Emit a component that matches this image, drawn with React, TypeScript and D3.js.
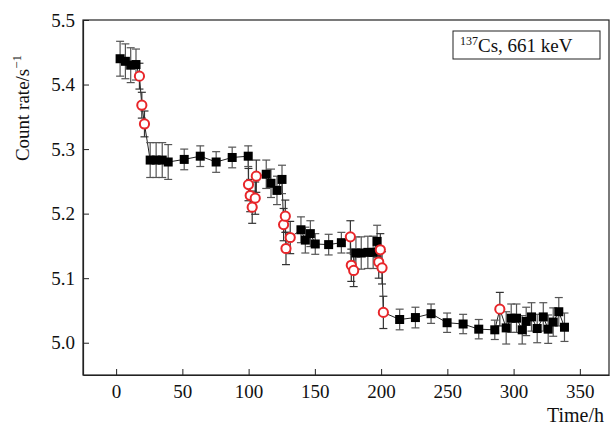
import React, { useEffect, useRef } from 'react';
import * as d3 from 'd3';

// black squares: time (h), count rate (1/s), error
const sqTime = [3, 7, 11, 15, 25.7, 30.2, 34.8, 39.3, 51.4, 63.5, 75.5, 87.6, 99.7,
  113.3, 116.9, 121.4, 125.2, 139.5, 142.8, 146.6, 150.3, 160.4, 170,
  181, 185, 190, 194, 197,
  214, 225.9, 237.7, 249.8, 261.9, 273.7, 285.8, 294.4, 298.2, 302.2, 306.5, 309.5,
  313.5, 317.8, 322.4, 326.1, 329.9, 334.1, 338.4];
const sqRate = [5.440, 5.436, 5.430, 5.431, 5.283, 5.283, 5.283, 5.280, 5.284, 5.289, 5.280, 5.287, 5.289,
  5.261, 5.247, 5.236, 5.253, 5.175, 5.159, 5.169, 5.153, 5.152, 5.155,
  5.139, 5.139, 5.140, 5.140, 5.157,
  5.036, 5.039, 5.045, 5.031, 5.029, 5.021, 5.020, 5.023, 5.038, 5.038, 5.020, 5.033,
  5.040, 5.022, 5.040, 5.021, 5.032, 5.048, 5.024];
const sqErr = [0.027, 0.027, 0.027, 0.024, 0.027, 0.027, 0.027, 0.027, 0.016, 0.016, 0.016, 0.016, 0.016,
  0.022, 0.022, 0.022, 0.022, 0.02, 0.02, 0.02, 0.016, 0.016, 0.016,
  0.025, 0.025, 0.025, 0.025, 0.025,
  0.016, 0.016, 0.015, 0.015, 0.015, 0.015, 0.015, 0.025, 0.022, 0.022, 0.022, 0.022,
  0.022, 0.022, 0.022, 0.022, 0.022, 0.022, 0.022];

// red open circles
const ciTime = [17.6, 19.4, 21.4, 99.9, 101.2, 102.7, 105, 105.8, 126.4, 127.7, 128.2, 131.4,
  176.8, 177.5, 179.3, 198.2, 199.4, 200.7, 201.7, 289.6];
const ciRate = [5.413, 5.368, 5.339, 5.245, 5.228, 5.210, 5.224, 5.258, 5.183, 5.196, 5.146, 5.163,
  5.164, 5.120, 5.112, 5.125, 5.144, 5.116, 5.047, 5.052];
const ciErr = [0.02, 0.02, 0.02, 0.025, 0.025, 0.025, 0.025, 0.025, 0.025, 0.025, 0.025, 0.025,
  0.025, 0.025, 0.025, 0.025, 0.025, 0.025, 0.025, 0.026];

const xTicks = [0, 50, 100, 150, 200, 250, 300, 350];
const yTicks = [5.0, 5.1, 5.2, 5.3, 5.4, 5.5];

const W = 610;
const H = 429;
const FONT = '"Liberation Serif", "Times New Roman", serif';

export default function App() {
  const ref = useRef<SVGSVGElement>(null);

  useEffect(() => {
    const svg = d3.select(ref.current);
    svg.selectAll('*').remove();

    const margin = { left: 83, right: 1, top: 20, bottom: 54 };
    const x = d3.scaleLinear().domain([-25, 372]).range([margin.left, W - margin.right]);
    const y = d3.scaleLinear().domain([4.95, 5.5]).range([H - margin.bottom, margin.top]);

    const squares = sqTime.map((t, i) => ({ t, v: sqRate[i], e: sqErr[i] }));
    const circles = ciTime.map((t, i) => ({ t, v: ciRate[i], e: ciErr[i] }));
    const all = [...squares, ...circles].sort((a, b) => a.t - b.t);

    // Frame
    svg.append('rect')
      .attr('x', x(-25)).attr('y', y(5.5))
      .attr('width', x(372) - x(-25)).attr('height', y(4.95) - y(5.5))
      .attr('fill', 'none').attr('stroke', '#222').attr('stroke-width', 1.2);

    // Axes (ticks inside)
    svg.append('g')
      .attr('transform', `translate(0, ${y(4.95)})`)
      .call(d3.axisBottom(x).tickValues(xTicks).tickSizeInner(-6).tickSizeOuter(0).tickPadding(7))
      .call(g => g.select('.domain').attr('stroke', '#222').attr('stroke-width', 1.2))
      .call(g => g.selectAll('.tick line').attr('stroke', '#222'))
      .call(g => g.selectAll('.tick text')
        .attr('font-family', FONT).attr('font-size', 19).attr('fill', '#111')
        .attr('dy', '0.85em'));

    svg.append('g')
      .attr('transform', `translate(${x(-25)}, 0)`)
      .call(d3.axisLeft(y).tickValues(yTicks).tickFormat(d3.format('.1f')).tickSizeInner(-6).tickSizeOuter(0).tickPadding(8))
      .call(g => g.select('.domain').attr('stroke', '#222').attr('stroke-width', 1.2))
      .call(g => g.selectAll('.tick line').attr('stroke', '#222'))
      .call(g => g.selectAll('.tick text')
        .attr('font-family', FONT).attr('font-size', 19).attr('fill', '#111'));

    // Connecting line
    const line = d3.line<{ t: number; v: number }>().x(d => x(d.t)).y(d => y(d.v));
    svg.append('path')
      .datum(all)
      .attr('d', line)
      .attr('fill', 'none').attr('stroke', '#222').attr('stroke-width', 1);

    // Error bars
    const drawErr = (data: { t: number; v: number; e: number }[], color: string) => {
      const g = svg.append('g').attr('stroke', color).attr('stroke-width', 1.2);
      data.forEach(d => {
        const cx = x(d.t);
        g.append('line').attr('x1', cx).attr('x2', cx).attr('y1', y(d.v + d.e)).attr('y2', y(d.v - d.e));
        g.append('line').attr('x1', cx - 4).attr('x2', cx + 4).attr('y1', y(d.v + d.e)).attr('y2', y(d.v + d.e));
        g.append('line').attr('x1', cx - 4).attr('x2', cx + 4).attr('y1', y(d.v - d.e)).attr('y2', y(d.v - d.e));
      });
    };
    drawErr(squares, '#555');
    drawErr(circles, '#333');

    // Squares
    svg.append('g').selectAll('rect')
      .data(squares)
      .join('rect')
      .attr('x', d => x(d.t) - 4.5).attr('y', d => y(d.v) - 4.5)
      .attr('width', 9).attr('height', 9)
      .attr('fill', '#000');

    // Circles
    svg.append('g').selectAll('circle')
      .data(circles)
      .join('circle')
      .attr('cx', d => x(d.t)).attr('cy', d => y(d.v))
      .attr('r', 4.6)
      .attr('fill', '#fff').attr('stroke', '#e8262a').attr('stroke-width', 2);

    // Axis titles
    const yl = svg.append('text')
      .attr('transform', `translate(29, 108) rotate(-90)`)
      .attr('text-anchor', 'middle')
      .attr('font-family', FONT).attr('font-size', 19).attr('fill', '#111');
    yl.append('tspan').text('Count rate/s');
    yl.append('tspan').attr('font-size', 13).attr('dy', -8).text('−1');

    svg.append('text')
      .attr('x', 604).attr('y', 422)
      .attr('text-anchor', 'end')
      .attr('font-family', FONT).attr('font-size', 20).attr('fill', '#111')
      .text('Time/h');

    // Legend box
    svg.append('rect')
      .attr('x', 453).attr('y', 31).attr('width', 147).attr('height', 28)
      .attr('fill', '#fff').attr('stroke', '#222').attr('stroke-width', 1);
    const lt = svg.append('text')
      .attr('x', 460).attr('y', 52)
      .attr('font-family', FONT).attr('font-size', 19).attr('fill', '#111');
    lt.append('tspan').attr('font-size', 12).attr('dy', -7).text('137');
    lt.append('tspan').attr('dy', 7).text('Cs, 661 keV');
  }, []);

  return (
    <svg ref={ref} width={W} height={H}
      style={{ position: 'absolute', left: 0, top: 0, background: '#fff' }} />
  );
}
